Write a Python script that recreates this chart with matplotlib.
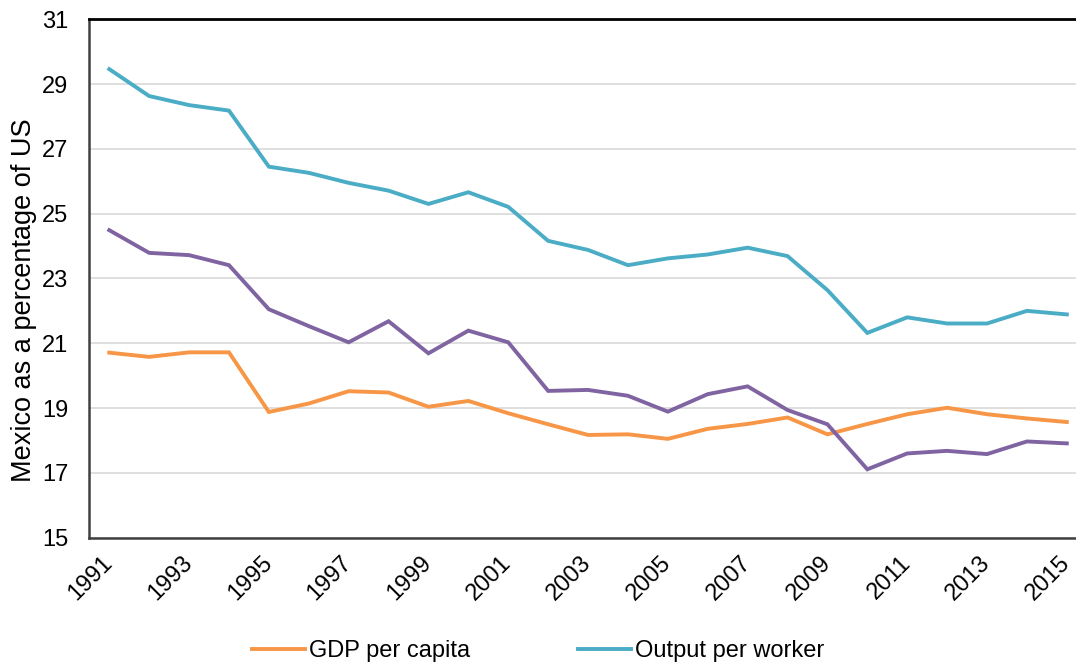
import matplotlib.pyplot as plt

# Mexico relative to US (%)
years = list(range(1991, 2016))
gdp_per_capita = [20.71, 20.58, 20.72, 20.72, 18.88, 19.14, 19.52, 19.48, 19.04, 19.22,
                  18.84, 18.50, 18.17, 18.19, 18.05, 18.36, 18.51, 18.71, 18.19, 18.51,
                  18.81, 19.01, 18.81, 18.68, 18.57]
output_per_worker = [29.46, 28.63, 28.35, 28.18, 26.45, 26.26, 25.95, 25.71, 25.30, 25.66,
                     25.21, 24.16, 23.88, 23.41, 23.62, 23.74, 23.95, 23.69, 22.64, 21.32,
                     21.80, 21.61, 21.61, 22.00, 21.89]
third_series = [24.49, 23.79, 23.72, 23.41, 22.05, 21.53, 21.03, 21.68, 20.69, 21.39,
                21.03, 19.53, 19.56, 19.38, 18.89, 19.43, 19.67, 18.94, 18.50, 17.11,
                17.60, 17.68, 17.58, 17.97, 17.91]
tick_years = years[::2]
y_ticks = [15, 17, 19, 21, 23, 25, 27, 29, 31]

plt.rcParams['font.family'] = ['Liberation Sans', 'DejaVu Sans']

fig = plt.figure(figsize=(10.76, 6.63), dpi=100)
ax = fig.add_axes([0.083, 0.189, 0.917, 0.782])

ax.plot(years, gdp_per_capita, color='#F79646', linewidth=2.8, label='GDP per capita',
        solid_joinstyle='miter', zorder=3)
ax.plot(years, output_per_worker, color='#4BACC6', linewidth=2.8, label='Output per worker',
        solid_joinstyle='miter', zorder=3)
ax.plot(years, third_series, color='#8064A2', linewidth=2.8, label='_nolegend_',
        solid_joinstyle='miter', zorder=3)

ax.set_xlim(1990.5, 2015.23)
ax.set_ylim(15, 31)
ax.set_yticks(y_ticks)
ax.set_xticks(tick_years)
ax.set_xticklabels([str(y) for y in tick_years], rotation=45, ha='right', va='center',
                   rotation_mode='anchor')
ax.tick_params(axis='both', length=0, labelsize=17, colors='black')
ax.tick_params(axis='x', pad=16)
ax.tick_params(axis='y', pad=15)

ax.grid(axis='y', color='#D9D9D9', linewidth=1.2)
ax.set_axisbelow(True)

ax.spines['right'].set_visible(False)
ax.spines['top'].set_color('black')
ax.spines['top'].set_linewidth(2)
ax.spines['left'].set_color('#404040')
ax.spines['left'].set_linewidth(1.8)
ax.spines['bottom'].set_color('#404040')
ax.spines['bottom'].set_linewidth(1.8)

ax.set_ylabel('Mexico as a percentage of US', fontsize=19.5)
ax.yaxis.set_label_coords(-0.053, 0.458)

fig.legend(loc='center', bbox_to_anchor=(0.5, 0.018), ncol=2, frameon=False,
           fontsize=17, handlelength=2.25, handletextpad=0.15, columnspacing=4.6)

fig.savefig('out.png', dpi=100)
